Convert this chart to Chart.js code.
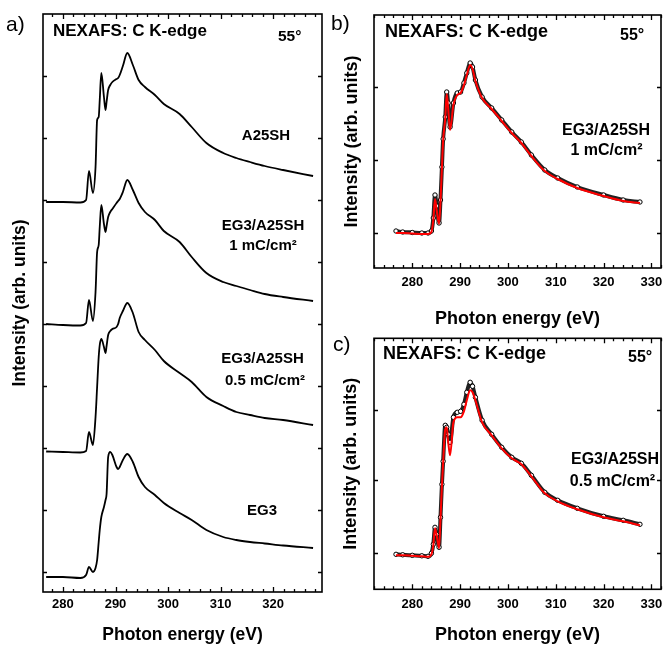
<!DOCTYPE html>
<html>
<head>
<meta charset="utf-8">
<script src="https://cdn.jsdelivr.net/npm/chart.js@4.4.1/dist/chart.umd.min.js"></script>
<style>
    body { margin: 0; background: #fff; }
    .panel { position: absolute; }
</style>
</head>
<body>
<div class="panel" style="left:0;top:0;width:326px;height:646px"><canvas id="chartA"></canvas></div>
<div class="panel" style="left:326px;top:0;width:342px;height:340px"><canvas id="chartB"></canvas></div>
<div class="panel" style="left:326px;top:323px;width:342px;height:323px"><canvas id="chartC"></canvas></div>
<script>
// Panel a: four stacked C K-edge spectra (arb. units, offsets as plotted)
const energyA = [276.8, 280, 283.3, 284.4, 284.95, 285.7, 286.2, 286.5, 286.8, 287.0, 287.3, 287.8, 288.1, 288.3,
    288.6, 289.0, 289.4, 290.2, 290.5, 290.8, 291.4, 292.25, 293.3, 294.4, 295.6, 297.5, 299.2, 302.2, 304.5,
    307.3, 310.5, 313, 315.6, 318.4, 321.9, 327.6];
const a25sh = [390, 390, 389.5, 392, 421, 399, 425, 472, 475, 492, 519, 495, 482, 490,
    502, 507, 510, 513, 514, 517, 526, 539, 527, 512, 505, 497, 488, 478, 465,
    449, 439, 434, 430, 426, 422, 416];
const eg3A25sh1 = [268, 267, 266.5, 269, 292, 271, 300, 340, 347, 365, 387, 368, 360, 366,
    375, 380, 383, 389, 391, 393, 400, 412, 402, 389, 380, 372, 361, 350, 335,
    319, 310, 306, 302, 298, 295, 291];
const eg3A25sh05 = [140.5, 140, 139.5, 141, 160, 147, 175, 205, 235, 247, 253, 245, 239, 246,
    257, 261, 263, 265, 268, 274, 281, 289, 279, 260, 252, 242, 231, 219, 210,
    195, 186, 180, 177, 174, 172, 167];
const eg3 = [15, 15, 14, 17, 25, 20, 24, 32, 50, 62, 75, 85, 92, 98,
    135, 140, 137, 125, 123, 125, 132, 138, 130, 115, 105, 97, 89, 79, 72,
    62, 55, 52, 50, 48.5, 46.5, 44];

// Panels b and c: measured (open circles) and fit (red line)
const energyBC = [276.6, 278, 280, 282, 283.3, 284.0, 284.4, 284.75, 285.1, 285.6, 285.9, 286.2, 286.45, 286.9,
    287.2, 287.5, 287.9, 288.6, 289.4, 290.1, 290.8, 291.4, 292.1, 292.6, 293.2, 294.6, 296.6, 298.7,
    300.8, 302.8, 304.9, 307.7, 310.4, 314.5, 320.0, 324.1, 327.6];
const bMeasured = [37, 36, 35.5, 35, 35, 37, 50, 73, 62, 45, 68, 101, 129, 151,
    176, 165, 141, 165, 175, 176, 185, 195, 205, 201, 188, 171, 160, 148,
    136, 126, 113, 98, 90, 81, 73, 68, 66];
const bFit = [35, 35, 34.5, 34, 34, 36, 48, 69, 58, 44, 66, 100, 127, 150,
    174, 160, 138, 163, 173, 175, 183, 193, 203, 199, 187, 170, 159, 147,
    135, 125, 112, 97, 89, 80, 72, 67, 65];
const cMeasured = [35, 34.5, 34, 33.5, 33, 36, 45, 62, 55, 42, 72, 105, 128, 164,
    162, 155, 147, 172, 177, 178, 185, 197, 207, 203, 192, 169, 155, 142,
    132, 126, 114, 97, 89, 81, 73, 69, 65];
const cFit = [34, 34, 33.5, 33, 32.5, 35, 44, 61, 54, 41, 70, 103, 126, 160,
    162, 148, 134, 167, 172, 172, 178, 189, 199, 197, 189, 167, 154, 141,
    131, 125, 113, 96, 88, 80, 72, 68, 64];

// inner tick marks on the intensity axes
const yTicksA = [20, 82, 144, 206, 268, 330, 392, 454, 516];
const yTicksB = [35, 108, 181];
const yTicksC = [36, 109, 179];

const FONT = 'Arial, "Liberation Sans", sans-serif';
Chart.defaults.font.family = FONT;
Chart.defaults.color = '#000';

function toPoints(xs, ys) {
    return xs.map((x, i) => ({ x: x, y: ys[i] }));
}

// box around the plot with ticks pointing inward on all four sides
const framePlugin = {
    id: 'frame',
    afterDatasetsDraw(chart, args, opts) {
        const { ctx, chartArea: a, scales } = chart;
        ctx.save();
        ctx.strokeStyle = '#000';
        ctx.lineWidth = 1.3;
        ctx.beginPath();
        scales.x.ticks.forEach(t => {
            if (Math.abs(t.value % 2) > 1e-6) return;
            const px = Math.round(scales.x.getPixelForValue(t.value)) + 0.5;
            const len = Math.abs(t.value % 10) < 1e-6 ? 5 : 3;
            ctx.moveTo(px, a.bottom); ctx.lineTo(px, a.bottom - len);
            ctx.moveTo(px, a.top); ctx.lineTo(px, a.top + len);
        });
        (opts.yTicks || []).forEach(v => {
            const py = Math.round(scales.y.getPixelForValue(v)) + 0.5;
            ctx.moveTo(a.left, py); ctx.lineTo(a.left + 4, py);
            ctx.moveTo(a.right, py); ctx.lineTo(a.right - 4, py);
        });
        ctx.stroke();
        ctx.lineWidth = 1.6;
        ctx.strokeRect(a.left, a.top, a.right - a.left, a.bottom - a.top);
        ctx.restore();
    }
};

// labels written inside and beside the plots
const notesPlugin = {
    id: 'notes',
    afterDraw(chart, args, opts) {
        const ctx = chart.ctx;
        ctx.save();
        ctx.fillStyle = '#000';
        ctx.textBaseline = 'alphabetic';
        (opts.items || []).forEach(n => {
            ctx.font = (n.weight || 'bold') + ' ' + n.size + 'px ' + FONT;
            ctx.textAlign = n.align || 'left';
            ctx.fillText(n.text, n.x, n.y);
        });
        ctx.restore();
    }
};

function makeChart(id, cfg) {
    return new Chart(document.getElementById(id), {
        type: 'line',
        data: { datasets: cfg.datasets },
        options: {
            responsive: true,
            maintainAspectRatio: false,
            animation: false,
            layout: { padding: cfg.padding },
            elements: { line: { cubicInterpolationMode: 'monotone' } },
            plugins: {
                legend: { display: false },
                tooltip: { enabled: false },
                frame: { yTicks: cfg.yTicks },
                notes: { items: cfg.notes }
            },
            scales: {
                x: {
                    type: 'linear',
                    min: cfg.xMin,
                    max: cfg.xMax,
                    afterFit: s => { s.height = cfg.xHeight; },
                    grid: { display: false, drawTicks: false },
                    border: { display: false },
                    ticks: {
                        stepSize: 2,
                        includeBounds: false,
                        autoSkip: false,
                        maxRotation: 0,
                        padding: cfg.tickPad,
                        font: { size: 13, weight: 'bold' },
                        callback: v => (Math.abs(v % 10) < 1e-6 ? v : '')
                    },
                    title: {
                        display: true,
                        text: 'Photon energy (eV)',
                        font: { size: cfg.titleSize, weight: 'bold' },
                        padding: { top: 0, bottom: cfg.xTitlePad }
                    }
                },
                y: {
                    min: cfg.yMin,
                    max: cfg.yMax,
                    afterFit: s => { s.width = cfg.yWidth; },
                    grid: { display: false, drawTicks: false },
                    border: { display: false },
                    ticks: { display: false },
                    title: {
                        display: true,
                        text: 'Intensity (arb. units)',
                        font: { size: cfg.titleSize, weight: 'bold' },
                        padding: { top: cfg.yTitlePad, bottom: 0 }
                    }
                }
            }
        },
        plugins: [framePlugin, notesPlugin]
    });
}

function spectrum(ys) {
    return {
        data: toPoints(energyA, ys),
        borderColor: '#000',
        borderWidth: 1.8,
        pointRadius: 0
    };
}

function fitLine(ys) {
    return {
        data: toPoints(energyBC, ys),
        borderColor: '#ff0000',
        borderWidth: 2,
        pointRadius: 0
    };
}

function measured(ys) {
    return {
        data: toPoints(energyBC, ys),
        borderColor: '#222',
        borderWidth: 4,
        pointRadius: 2.2,
        pointBorderWidth: 1,
        pointBorderColor: '#000',
        pointBackgroundColor: '#fff'
    };
}

makeChart('chartA', {
    datasets: [spectrum(a25sh), spectrum(eg3A25sh1), spectrum(eg3A25sh05), spectrum(eg3)],
    padding: { top: 14, right: 4, left: 0, bottom: 0 },
    xMin: 276.2, xMax: 329.3, xHeight: 54, tickPad: 5, xTitlePad: 0,
    yMin: 0, yMax: 578, yWidth: 43, yTitlePad: 9.5, titleSize: 17.5,
    yTicks: yTicksA,
    notes: [
        { text: 'a)', x: 6, y: 31, size: 21, weight: 'normal' },
        { text: 'NEXAFS: C K-edge', x: 53, y: 36, size: 17 },
        { text: '55°', x: 278, y: 41, size: 15.5 },
        { text: 'A25SH', x: 266, y: 140, size: 15, align: 'center' },
        { text: 'EG3/A25SH', x: 263, y: 230, size: 15, align: 'center' },
        { text: '1 mC/cm²', x: 263, y: 250, size: 15, align: 'center' },
        { text: 'EG3/A25SH', x: 262.5, y: 363, size: 15, align: 'center' },
        { text: '0.5 mC/cm²', x: 265, y: 385, size: 15, align: 'center' },
        { text: 'EG3', x: 262, y: 515, size: 15, align: 'center' }
    ]
});

makeChart('chartB', {
    datasets: [fitLine(bFit), measured(bMeasured)],
    padding: { top: 15, right: 3, left: 0, bottom: 0 },
    xMin: 272, xMax: 332, xHeight: 72, tickPad: 7, xTitlePad: 10,
    yMin: 0, yMax: 253, yWidth: 48, yTitlePad: 15.7, titleSize: 18,
    yTicks: yTicksB,
    notes: [
        { text: 'b)', x: 5, y: 30, size: 21, weight: 'normal' },
        { text: 'NEXAFS: C K-edge', x: 59, y: 37, size: 18 },
        { text: '55°', x: 294, y: 39.5, size: 16 },
        { text: 'EG3/A25SH', x: 280, y: 135, size: 16, align: 'center' },
        { text: '1 mC/cm²', x: 280.5, y: 155, size: 16, align: 'center' }
    ]
});

makeChart('chartC', {
    datasets: [fitLine(cFit), measured(cMeasured)],
    padding: { top: 15.3, right: 3, left: 0, bottom: 0 },
    xMin: 272, xMax: 332, xHeight: 56.7, tickPad: 7, xTitlePad: 0,
    yMin: 0, yMax: 251, yWidth: 48, yTitlePad: 14.7, titleSize: 18,
    yTicks: yTicksC,
    notes: [
        { text: 'c)', x: 7, y: 28, size: 21, weight: 'normal' },
        { text: 'NEXAFS: C K-edge', x: 57, y: 36, size: 18 },
        { text: '55°', x: 302, y: 38.5, size: 16 },
        { text: 'EG3/A25SH', x: 289, y: 141, size: 16, align: 'center' },
        { text: '0.5 mC/cm²', x: 286.5, y: 163, size: 16, align: 'center' }
    ]
});
</script>
</body>
</html>
